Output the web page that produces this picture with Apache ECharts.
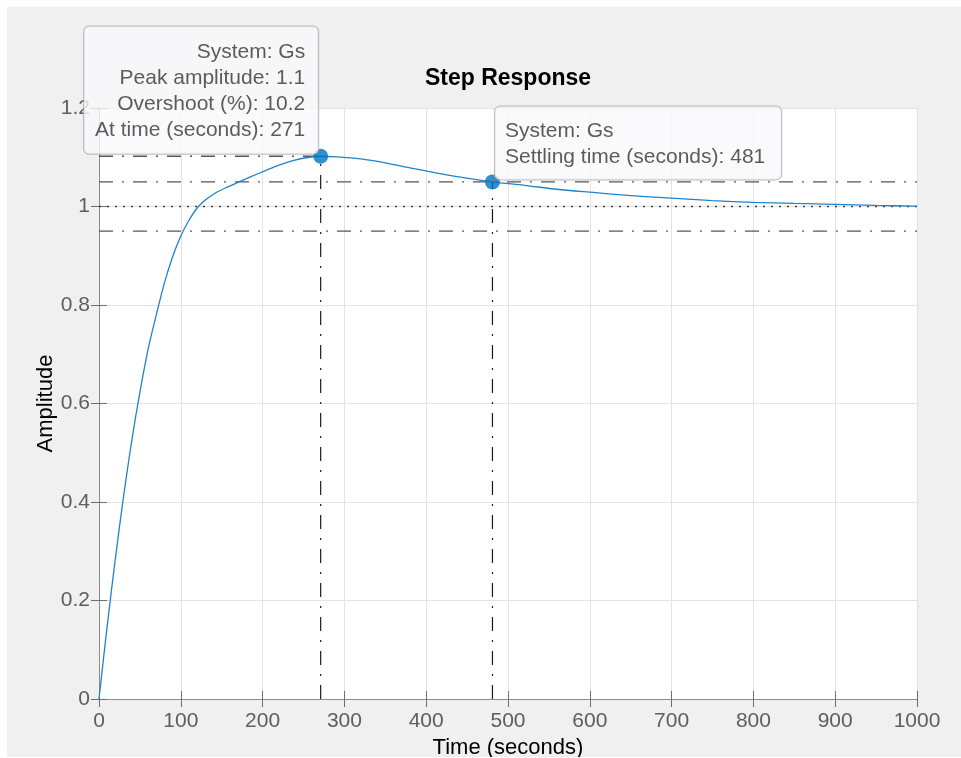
<!DOCTYPE html>
<html>
<head>
<meta charset="utf-8">
<title>Step Response</title>
<script src="https://cdn.jsdelivr.net/npm/echarts@6/dist/echarts.min.js"></script>
<style>
  html, body { margin: 0; padding: 0; background: #ffffff; }
  #chart { position: absolute; left: 7px; top: 7px; width: 954px; height: 750px; background: #f0f0f0; }
</style>
</head>
<body>
<div id="chart"></div>
<script>
// Step response of system Gs
const stepTime = [0, 10, 20, 30, 40, 50, 60, 70, 80, 90, 100, 110, 120, 130, 140, 155, 170, 185, 205, 220, 237,
  255, 271, 290, 320, 350, 380, 410, 440, 481, 520, 560, 600, 650, 700, 750, 800, 850, 900, 950, 1000];
const stepAmp = [0, 0.148, 0.285, 0.411, 0.524, 0.623, 0.710, 0.780, 0.845, 0.898, 0.940, 0.972, 0.997, 1.013,
  1.025, 1.038, 1.049, 1.060, 1.074, 1.084, 1.093, 1.0995, 1.102, 1.1008, 1.0965, 1.0885, 1.0785, 1.069, 1.060,
  1.050, 1.043, 1.035, 1.029, 1.022, 1.017, 1.012, 1.0085, 1.0062, 1.0042, 1.0022, 1.0008];

// Characteristics
const systemName = 'Gs';
const finalValue = 1;
const peakTime = 271;
const peakAmp = 1.102;
const settleTime = 481;
const settleBand = 0.05;

// Axis ticks
const xTicks = [0, 100, 200, 300, 400, 500, 600, 700, 800, 900, 1000];
const yTicks = [0, 0.2, 0.4, 0.6, 0.8, 1, 1.2];

const fmt3 = v => String(+(+v).toPrecision(3));
const curve = stepTime.map((t, i) => [t, stepAmp[i]]);
const settleUpper = finalValue * (1 + settleBand);
const settleLower = finalValue * (1 - settleBand);
const overshoot = (peakAmp - finalValue) / finalValue * 100;

const dashDot = [14, 9, 2, 9];
const guideGray = '#555555';
const guideDark = '#1a1a1a';
const axisGray = '#8c8c8c';
const textFont = '"Liberation Sans", Arial, Helvetica, sans-serif';

function guide(data, color, type, width) {
  return {
    type: 'line', data: data, symbol: 'none', silent: true, z: 3,
    lineStyle: { color: color, width: width || 1.4, type: type }
  };
}

const axisCommon = {
  type: 'value',
  axisLine: { show: true, lineStyle: { color: axisGray, width: 1 } },
  axisTick: { show: true, inside: true, length: 8, lineStyle: { color: '#6e6e6e' } },
  splitLine: { show: false }
};

const xMin = xTicks[0], xMax = xTicks[xTicks.length - 1], xStep = xTicks[1] - xTicks[0];
const yMin = yTicks[0], yMax = yTicks[yTicks.length - 1], yStep = yTicks[1] - yTicks[0];

const chart = echarts.init(document.getElementById('chart'), null, { renderer: 'canvas' });
chart.setOption({
  animation: false,
  backgroundColor: '#f0f0f0',
  textStyle: { fontFamily: textFont },
  title: {
    text: 'Step Response',
    left: 501, top: 60, padding: 0, textAlign: 'center',
    textStyle: { fontSize: 23, fontWeight: 'bold', color: '#000', fontFamily: textFont }
  },
  grid: {
    left: 92, right: 44, top: 101, bottom: 58,
    outerBoundsMode: 'none', containLabel: false,
    show: true, backgroundColor: '#ffffff', borderWidth: 0
  },
  xAxis: [
    Object.assign({}, axisCommon, {
      position: 'bottom', min: xMin, max: xMax, interval: xStep,
      name: 'Time (seconds)', nameLocation: 'middle', nameGap: 34,
      nameTextStyle: { fontSize: 22, color: '#000', fontFamily: textFont },
      axisLabel: { fontSize: 21, color: '#5e5e5e', margin: 12, formatter: v => String(v) },
      splitLine: { show: true, lineStyle: { color: '#e3e3e3', width: 1 } }
    }),
    Object.assign({}, axisCommon, {
      position: 'top', min: xMin, max: xMax, interval: xStep,
      axisLabel: { show: false }
    })
  ],
  yAxis: [
    Object.assign({}, axisCommon, {
      position: 'left', min: yMin, max: yMax, interval: yStep,
      name: 'Amplitude', nameLocation: 'middle', nameGap: 42, nameMoveOverlap: false,
      nameTextStyle: { fontSize: 22, color: '#000', fontFamily: textFont },
      axisLabel: { fontSize: 21, color: '#5e5e5e', margin: 9, formatter: v => fmt3(Math.round(v * 10) / 10) },
      splitLine: { show: true, lineStyle: { color: '#e3e3e3', width: 1 } }
    }),
    Object.assign({}, axisCommon, {
      position: 'right', min: yMin, max: yMax, interval: yStep,
      axisLabel: { show: false }
    })
  ],
  series: [
    // settling band and final value
    guide([[xMin, settleUpper], [xMax, settleUpper]], guideGray, dashDot),
    guide([[xMin, settleLower], [xMax, settleLower]], guideGray, dashDot),
    guide([[xMin, finalValue], [xMax, finalValue]], '#404040', [2, 6], 1.4),
    // peak guides
    guide([[xMin, peakAmp], [peakTime, peakAmp]], guideGray, dashDot),
    guide([[peakTime, 0], [peakTime, peakAmp]], guideDark, dashDot, 1.2),
    // settling time guide
    guide([[settleTime, 0], [settleTime, settleUpper]], guideDark, dashDot, 1.2),
    {
      type: 'line', name: systemName, data: curve, symbol: 'none', smooth: 0.3, z: 4,
      lineStyle: { color: '#1f84cc', width: 1.3 }
    },
    {
      type: 'scatter', z: 10, symbolSize: 15,
      itemStyle: { color: '#0072bd' },
      data: [
        {
          value: [peakTime, peakAmp],
          label: {
            show: true, position: [5, 5], align: 'right', verticalAlign: 'bottom',
            formatter: [
              'System: ' + systemName,
              'Peak amplitude: ' + fmt3(peakAmp),
              'Overshoot (%): ' + fmt3(overshoot),
              'At time (seconds): ' + fmt3(peakTime)
            ].join('\n'),
            fontSize: 21, lineHeight: 26.3, color: '#333333', fontFamily: textFont,
            backgroundColor: '#f9f9fc', borderColor: '#ababab', borderWidth: 1, borderRadius: 5,
            padding: [12, 13, 10, 11]
          }
        },
        {
          value: [settleTime, settleUpper],
          label: {
            show: true, position: [10, 5], align: 'left', verticalAlign: 'bottom',
            formatter: [
              'System: ' + systemName,
              'Settling time (seconds): ' + fmt3(settleTime)
            ].join('\n'),
            fontSize: 21, lineHeight: 26, color: '#333333', fontFamily: textFont,
            backgroundColor: '#f9f9fc', borderColor: '#ababab', borderWidth: 1, borderRadius: 5,
            padding: [12, 16, 9, 10]
          }
        }
      ]
    }
  ]
});
</script>
</body>
</html>
